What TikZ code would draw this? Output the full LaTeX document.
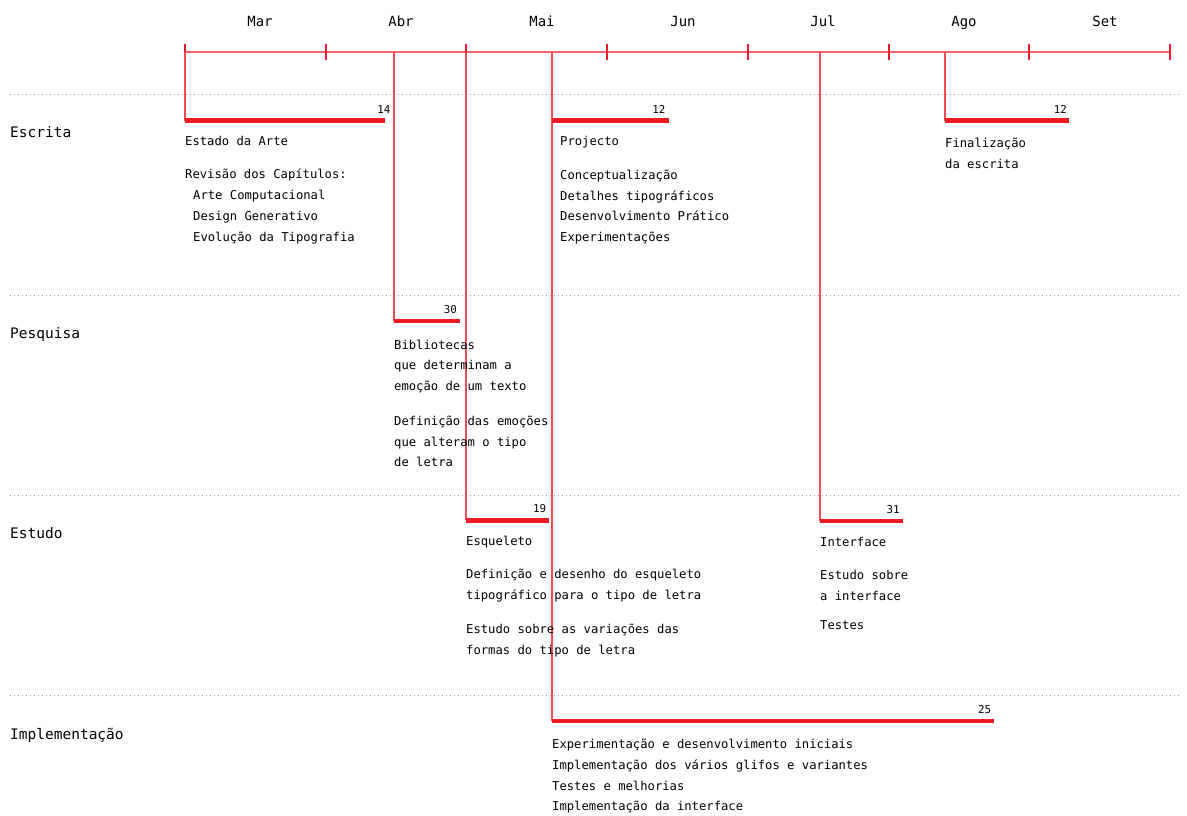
\documentclass[tikz,border=0pt]{standalone}
\usepackage{fontspec}
\setmonofont{DejaVu Sans Mono}
\usetikzlibrary{positioning}
\definecolor{barred}{HTML}{ED1C24}
\definecolor{axisred}{HTML}{F2676F}
\definecolor{dropred}{HTML}{F04A53}

\begin{document}
\begin{tikzpicture}[
                            x=1pt, y=-1pt,
                            node distance=10pt,
                            month/.style={font=\ttfamily\fontsize{14}{14}\selectfont, anchor=base, inner sep=0pt},
                            row/.style={font=\ttfamily\fontsize{14.5}{14.5}\selectfont, anchor=base west, inner sep=0pt},
                            txt/.style={font=\ttfamily\fontsize{12.2}{20.7}\selectfont, align=left, inner sep=0pt},
                            num/.style={font=\ttfamily\fontsize{10.8}{10.8}\selectfont, inner sep=0pt},
                            bar/.style={barred, line width=4.4pt},
                            drop/.style={dropred, line width=1.3pt},
                            sep/.style={gray!80, line width=1pt, dash pattern=on 1pt off 3pt}
                            ]
                            \useasboundingbox (0,0) rectangle (1187,816);

                            \foreach \i in {0,...,7}
                                \coordinate (a\i) at (185+140.714*\i,52);
                            \draw[axisred, line width=1.5pt] (a0) -- (a7);
                            \foreach \i in {0,...,7}
                                \draw[barred, line width=2pt] ([yshift=-8pt]a\i) -- ([yshift=8pt]a\i);

                            \node[month] (mar) at (260,26.5)  {Mar};
                            \node[month] (abr) at (401,26.5)  {Abr};
                            \node[month] (mai) at (542,26.5)  {Mai};
                            \node[month] (jun) at (683,26.5)  {Jun};
                            \node[month] (jul) at (823,26.5)  {Jul};
                            \node[month] (ago) at (964,26.5)  {Ago};
                            \node[month] (set) at (1105,26.5) {Set};

                            \coordinate (l1) at (10,95);  \coordinate (r1) at (1180,95);
                            \coordinate (l2) at (10,295); \coordinate (r2) at (1180,295);
                            \coordinate (l3) at (10,495); \coordinate (r3) at (1180,495);
                            \coordinate (l4) at (10,695); \coordinate (r4) at (1180,695);
                            \draw[sep] (l1) -- (r1);
                            \draw[sep] (l2) -- (r2);
                            \draw[sep] (l3) -- (r3);
                            \draw[sep] (l4) -- (r4);

                            \node[row] (escrita)  at (10,137) {Escrita};
                            \node[row] (pesquisa) at (10,338) {Pesquisa};
                            \node[row] (estudo)   at (10,538) {Estudo};
                            \node[row] (impl)     at (10,739) {Implementação};

                            \coordinate (t1) at (185,52);  \coordinate (s1) at (185,120.5); \coordinate (e1) at (385,120.5);
                            \coordinate (t2) at (552,52);  \coordinate (s2) at (552,120.5); \coordinate (e2) at (668.5,120.5);
                            \coordinate (t3) at (945,52);  \coordinate (s3) at (945,120.5); \coordinate (e3) at (1069,120.5);
                            \coordinate (t4) at (394,52);  \coordinate (s4) at (394,321);   \coordinate (e4) at (460,321);
                            \coordinate (t5) at (466,52);  \coordinate (s5) at (466,520.3); \coordinate (e5) at (549.3,520.3);
                            \coordinate (t6) at (820,52);  \coordinate (s6) at (820,521);   \coordinate (e6) at (902.7,521);
                            \coordinate (t7) at (552,52);  \coordinate (s7) at (552,721);   \coordinate (e7) at (994.3,721);

                            \draw[drop] (t1) -- (s1);
                            \draw[drop] (t3) -- (s3);
                            \draw[drop] (t4) -- (s4);
                            \draw[drop] (t5) -- (s5);
                            \draw[drop] (t6) -- (s6);
                            \draw[drop] (t7) -- (s7);

                            \draw[bar] (s1) -- (e1);
                            \draw[bar] (s2) -- (e2);
                            \draw[bar] (s3) -- (e3);
                            \draw[bar] (s4) -- (e4);
                            \draw[bar] (s5) -- (e5);
                            \draw[bar] (s6) -- (e6);
                            \draw[bar] (s7) -- (e7);

                            \node[num, above left=7pt and -5.5pt of e1] (n1) {14};
                            \node[num, above left=7pt and 3pt of e2]    (n2) {12};
                            \node[num, above left=7pt and 2pt of e3]    (n3) {12};
                            \node[num, above left=7pt and 3pt of e4]    (n4) {30};
                            \node[num, above left=7pt and 3pt of e5]    (n5) {19};
                            \node[num, above left=7pt and 3pt of e6]    (n6) {31};
                            \node[num, above left=7pt and 3pt of e7]    (n7) {25};

                            \node[txt, below right=15.5pt and 0pt of s1] (d1)
                                {Estado da Arte\\[12.8pt]
                                 Revisão dos Capítulos:\\
                                 \hspace*{8pt}Arte Computacional\\
                                 \hspace*{8pt}Design Generativo\\
                                 \hspace*{8pt}Evolução da Tipografia};
                            \node[txt, below right=15.5pt and 8pt of s2] (d2)
                                {Projecto\\[13.3pt]
                                 Conceptualização\\
                                 Detalhes tipográficos\\
                                 Desenvolvimento Prático\\
                                 Experimentações};
                            \node[txt, below right=17.5pt and 0pt of s3] (d3)
                                {Finalização\\
                                 da escrita};
                            \node[txt, below right=18.5pt and 0pt of s4] (d4)
                                {Bibliotecas\\
                                 que determinam a\\
                                 emoção de um texto\\[14.3pt]
                                 Definição das emoções\\
                                 que alteram o tipo\\
                                 de letra};
                            \node[txt, below right=15.4pt and 0pt of s5] (d5)
                                {Esqueleto\\[12.6pt]
                                 Definição e desenho do esqueleto\\
                                 tipográfico para o tipo de letra\\[14pt]
                                 Estudo sobre as variações das\\
                                 formas do tipo de letra};
                            \node[txt, below right=15.7pt and 0pt of s6] (d6)
                                {Interface\\[12.6pt]
                                 Estudo sobre\\
                                 a interface\\[8.6pt]
                                 Testes};
                            \node[txt, below right=18pt and 0pt of s7] (d7)
                                {Experimentação e desenvolvimento iniciais\\
                                 Implementação dos vários glifos e variantes\\
                                 Testes e melhorias\\
                                 Implementação da interface};
                        \end{tikzpicture}
\end{document}
